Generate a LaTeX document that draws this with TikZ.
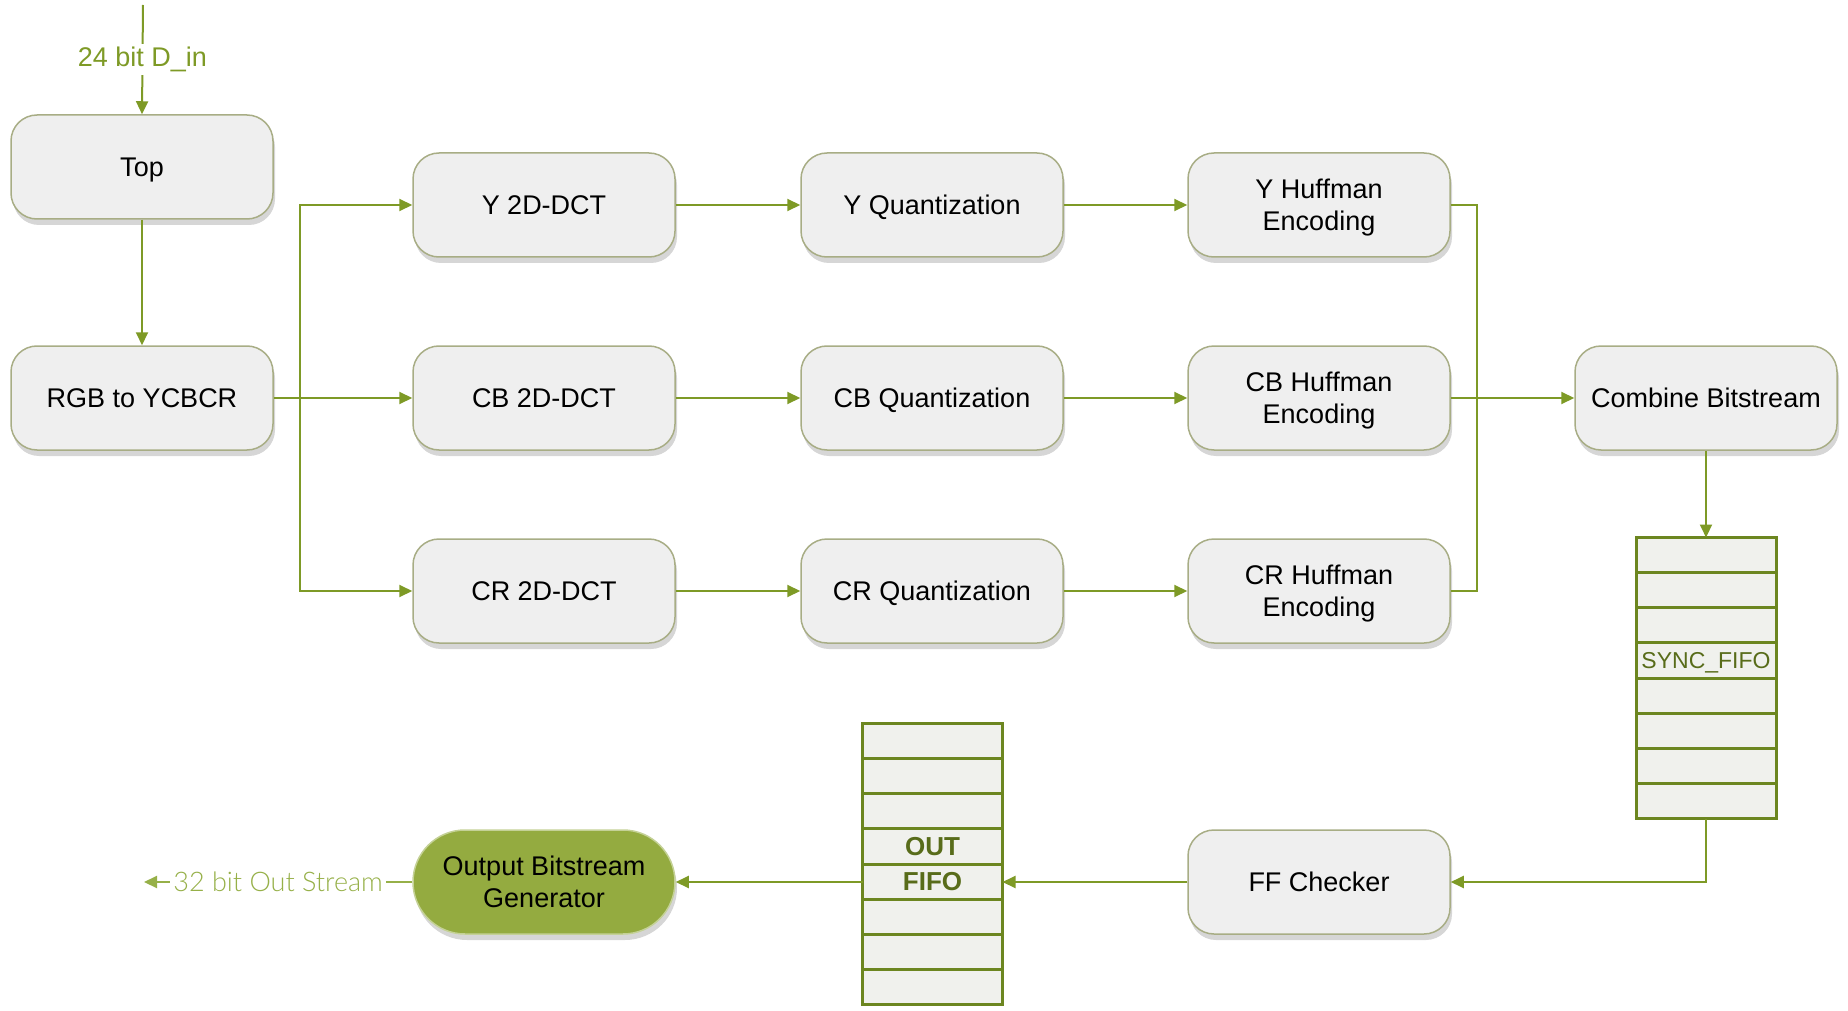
\documentclass[tikz,border=0pt]{standalone}
\usepackage{fontspec}
\setmainfont{Liberation Sans}
\IfFontExistsTF{Lato Light}{\newfontfamily\thinfont{Lato Light}}{\newfontfamily\thinfont{Liberation Sans}}
\usetikzlibrary{arrows.meta,shadows,calc}

\definecolor{wire}{RGB}{126,154,38}
\definecolor{wirelight}{RGB}{150,176,72}
\definecolor{boxline}{RGB}{168,173,133}
\definecolor{boxfill}{RGB}{239,239,239}
\definecolor{fifoline}{RGB}{108,134,32}
\definecolor{fifofill}{RGB}{240,241,237}
\definecolor{fifotext}{RGB}{88,108,26}
\definecolor{genfill}{RGB}{148,171,64}

\tikzset{
  blk/.style={rectangle, rounded corners=26pt, draw=boxline, line width=1.5pt,
    fill=boxfill, minimum width=262pt, minimum height=104pt, inner sep=0pt,
    align=center, font=\fontsize{27}{32}\selectfont, text depth=0pt,
    drop shadow={shadow xshift=2pt, shadow yshift=-6pt, fill=black, opacity=0.16}},
  genblk/.style={blk, rounded corners=52pt, fill=genfill, draw=genfill!55!white},
  fifo/.style={rectangle, draw=fifoline, line width=3pt, fill=fifofill,
    minimum width=140pt, minimum height=281pt, outer sep=0pt, inner sep=0pt},
  cell/.style={draw=fifoline, line width=3pt},
  wire/.style={draw=wire, line width=2pt},
  arr/.style={wire, -{Triangle[length=13pt,width=12pt]}},
  tag/.style={fill=white, inner sep=3pt, font=\fontsize{27}{30}\selectfont}
}

\begin{document}
\begin{tikzpicture}[x=1pt,y=-1pt]
\useasboundingbox (0,0) rectangle (1848,1011);

% processing blocks
\node[blk] (top) at (142,167) {Top};
\node[blk] (rgb) at (142,398) {RGB to YCBCR};

\node[blk] (ydct)  at (544,205) {Y 2D-DCT};
\node[blk] (cbdct) at (544,398) {CB 2D-DCT};
\node[blk] (crdct) at (544,591) {CR 2D-DCT};

\node[blk] (yq)  at (932,205) {Y Quantization};
\node[blk] (cbq) at (932,398) {CB Quantization};
\node[blk] (crq) at (932,591) {CR Quantization};

\node[blk] (yh)  at (1319,205) {Y Huffman\\Encoding};
\node[blk] (cbh) at (1319,398) {CB Huffman\\Encoding};
\node[blk] (crh) at (1319,591) {CR Huffman\\Encoding};

\node[blk] (comb) at (1706,398) {Combine Bitstream};
\node[blk] (ff)   at (1319,882) {FF Checker};
\node[genblk] (gen) at (544,882) {Output Bitstream\\Generator};

% FIFO stacks
\node[fifo] (sync) at (1706,678) {};
\node[fifo] (outf) at (932.5,864) {};
\foreach \f in {sync,outf}{
  \foreach \i in {1,...,7}
    \draw[cell] ($(\f.north west)!\i/8!(\f.south west)$) -- ($(\f.north east)!\i/8!(\f.south east)$);
}
\node[text=fifotext, font=\fontsize{23}{26}\selectfont, text depth=0pt] (synclbl)
  at ($(sync.north)!3.5/8!(sync.south)$) {SYNC\_FIFO};
\node[text=fifotext, font=\fontsize{26}{30}\bfseries, text depth=0pt] (outlbl1)
  at ($(outf.north)!3.5/8!(outf.south)$) {OUT};
\node[text=fifotext, font=\fontsize{26}{30}\bfseries, text depth=0pt] (outlbl2)
  at ($(outf.north)!4.5/8!(outf.south)$) {FIFO};

% input
\coordinate (din) at (143,5);
\draw[arr] (din) -- node[tag, text=wire] (dinlbl) {24 bit D\_in} (top.north);
\draw[arr] (top.south) -- (rgb.north);

% fan-out to the three channels
\coordinate (busL) at (300,398);
\draw[arr] (rgb.east) -- (cbdct.west);
\draw[arr] (busL) |- (ydct.west);
\draw[arr] (busL) |- (crdct.west);

% channel pipelines
\draw[arr] (ydct) -- (yq);
\draw[arr] (cbdct) -- (cbq);
\draw[arr] (crdct) -- (crq);
\draw[arr] (yq) -- (yh);
\draw[arr] (cbq) -- (cbh);
\draw[arr] (crq) -- (crh);

% merge into the combiner
\coordinate (busR) at (1477,398);
\draw[wire] (yh.east) -| (busR);
\draw[wire] (crh.east) -| (busR);
\draw[arr] (cbh.east) -- (comb.west);

% output path
\draw[arr] (comb.south) -- (sync.north);
\draw[arr] (sync.south) |- (ff.east);
\draw[arr] (ff.west) -- (ff.west -| outf.east);
\draw[arr] (outf.west |- gen.east) -- (gen.east);

\coordinate (dout) at (144,882);
\draw[draw=wirelight, line width=2pt, -{Triangle[length=13pt,width=12pt]}] (gen.west) --
  node[tag, text=wirelight, font=\thinfont\fontsize{27}{30}\selectfont] (doutlbl) {32 bit Out Stream} (dout);
\end{tikzpicture}
\end{document}
